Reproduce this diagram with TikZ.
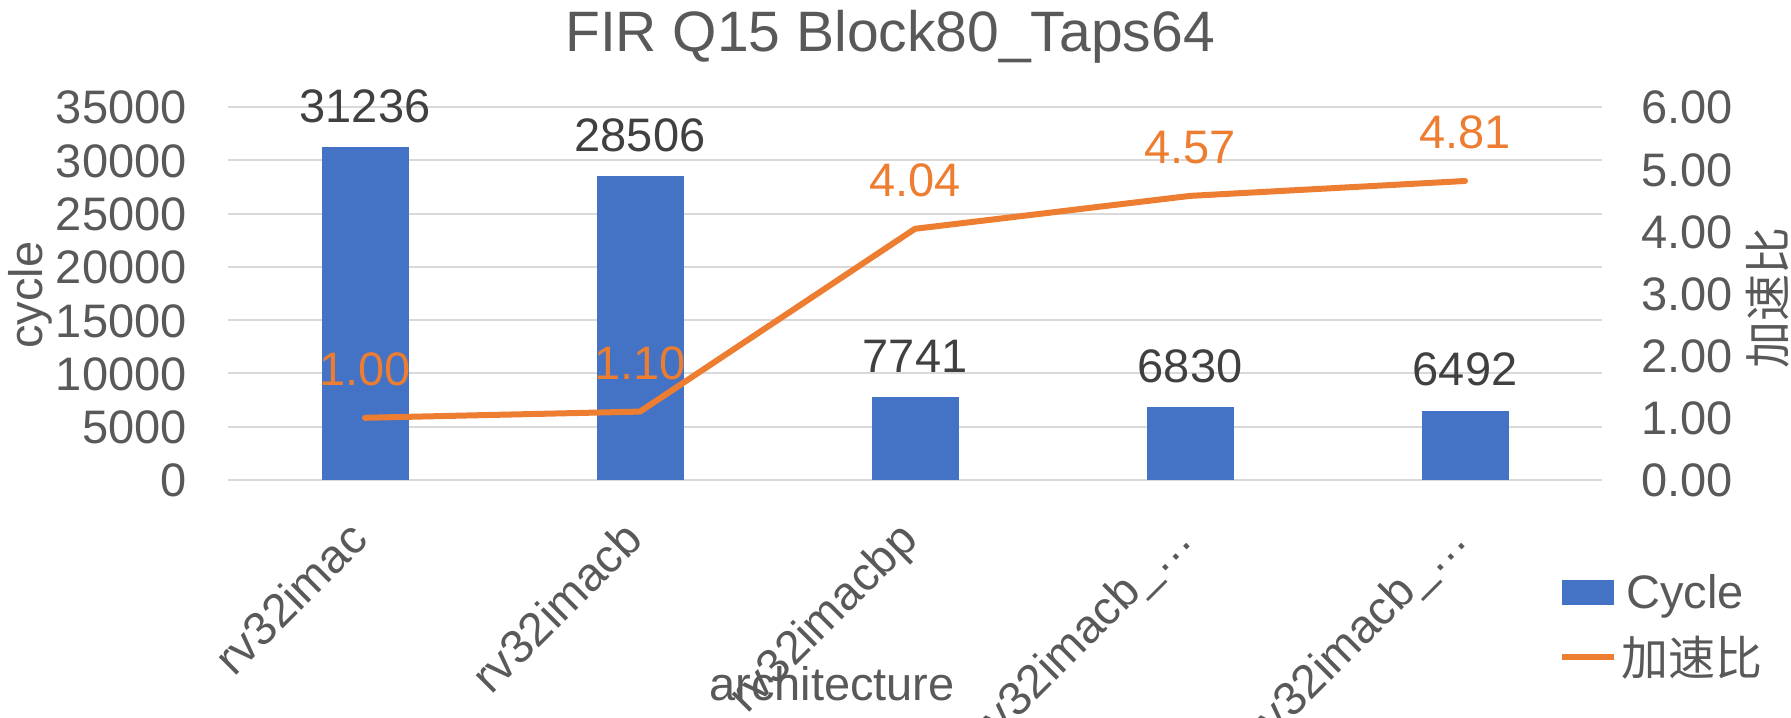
\documentclass[tikz,border=0pt]{standalone}
\usepackage{fontspec}
\setmainfont{Liberation Sans}
\newfontfamily\cjkfont{Noto Sans CJK SC}
\definecolor{axisgray}{HTML}{595959}
\definecolor{labelgray}{HTML}{404040}
\definecolor{gridgray}{HTML}{D9D9D9}
\definecolor{barblue}{HTML}{4472C4}
\definecolor{lineorange}{HTML}{ED7D31}
\tikzset{
    ticklabel/.style={font=\fontsize{23.5}{28}\selectfont, text=axisgray, inner sep=0pt},
    titletext/.style={font=\fontsize{28.5}{34}\selectfont, text=axisgray, inner sep=0pt},
    datalabel/.style={font=\fontsize{23.5}{28}\selectfont, text=labelgray, inner sep=0pt, anchor=base},
    speedlabel/.style={font=\fontsize{23.5}{28}\selectfont, text=lineorange, inner sep=0pt, anchor=base},
    catlabel/.style={ticklabel, rotate=45, anchor=base east},
    gridline/.style={draw=gridgray, line width=1pt},
    speedline/.style={draw=lineorange, line width=3pt, line join=round, line cap=round}
}
\begin{document}
\begin{tikzpicture}[x=0.5pt, y=0.5pt]
    \useasboundingbox (0, 0) rectangle (1791, 717);
    \node[titletext, anchor=base] (title) at (890, 665){FIR Q15 Block80\_Taps64};

        \draw[gridline](228, 237) to (1602, 237);
        \draw[gridline](228, 290.3) to (1602, 290.3);
        \draw[gridline](228, 343.6) to (1602, 343.6);
        \draw[gridline](228, 396.9) to (1602, 396.9);
        \draw[gridline](228, 450.1) to (1602, 450.1);
        \draw[gridline](228, 503.4) to (1602, 503.4);
        \draw[gridline](228, 556.7) to (1602, 556.7);
        \draw[gridline](228, 610) to (1602, 610);

        \node[ticklabel, anchor=base east] (l0) at (187, 220){0};
        \node[ticklabel, anchor=base east] (l1) at (187, 273.3){5000};
        \node[ticklabel, anchor=base east] (l2) at (187, 326.6){10000};
        \node[ticklabel, anchor=base east] (l3) at (187, 379.9){15000};
        \node[ticklabel, anchor=base east] (l4) at (187, 433.1){20000};
        \node[ticklabel, anchor=base east] (l5) at (187, 486.4){25000};
        \node[ticklabel, anchor=base east] (l6) at (187, 539.7){30000};
        \node[ticklabel, anchor=base east] (l7) at (187, 593){35000};

        \node[ticklabel, anchor=base west] (r0) at (1641, 220){0.00};
        \node[ticklabel, anchor=base west] (r1) at (1641, 282.2){1.00};
        \node[ticklabel, anchor=base west] (r2) at (1641, 344.3){2.00};
        \node[ticklabel, anchor=base west] (r3) at (1641, 406.5){3.00};
        \node[ticklabel, anchor=base west] (r4) at (1641, 468.7){4.00};
        \node[ticklabel, anchor=base west] (r5) at (1641, 530.8){5.00};
        \node[ticklabel, anchor=base west] (r6) at (1641, 593){6.00};

    % cycle bars
        \fill[barblue](321.5, 237) rectangle (408.5, 569.9);
            \node[datalabel] (c1) at (365, 594.9){31236};
        \fill[barblue](596.5, 237) rectangle (683.5, 540.8);
            \node[datalabel] (c2) at (640, 565.8){28506};
        \fill[barblue](871.5, 237) rectangle (958.5, 319.5);
            \node[datalabel] (c3) at (915, 344.5){7741};
        \fill[barblue](1146.5, 237) rectangle (1233.5, 309.8);
            \node[datalabel] (c4) at (1190, 334.8){6830};
        \fill[barblue](1421.5, 237) rectangle (1508.5, 306.2);
            \node[datalabel] (c5) at (1465, 331.2){6492};

    % speedup line
        \coordinate (s1) at (365, 299.2);
        \coordinate (s2) at (640, 305.4);
        \coordinate (s3) at (915, 488.2);
        \coordinate (s4) at (1190, 521.1);
        \coordinate (s5) at (1465, 536.0);
        \draw[speedline] (s1) -- (s2) -- (s3) -- (s4) -- (s5);
            \node[speedlabel] (v1) at (365, 331.2){1.00};
            \node[speedlabel] (v2) at (640, 337.4){1.10};
            \node[speedlabel] (v3) at (915, 520.2){4.04};
            \node[speedlabel] (v4) at (1190, 553.1){4.57};
            \node[speedlabel] (v5) at (1465, 568.0){4.81};

        \node[catlabel] (a1) at (370, 175){rv32imac};
        \node[catlabel] (a2) at (645, 175){rv32imacb};
        \node[catlabel] (a3) at (920, 175){rv32imacbp};
        \node[catlabel] (a4) at (1195, 175){rv32imacb\_…};
        \node[catlabel] (a5) at (1470, 175){rv32imacb\_…};

        \node[ticklabel, anchor=base] (xtitle) at (832, 17){architecture};
        \node[ticklabel, anchor=base, rotate=90] (ytitle) at (42, 422){cycle};
        \node[ticklabel, rotate=90, font=\fontsize{23.5}{28}\cjkfont] (ztitle) at (1768, 419){加速比};

    % legend
        \fill[barblue](1562, 112) rectangle (1614, 137);
            \node[ticklabel, anchor=base west] (k1) at (1626, 109){Cycle};
        \coordinate (k2a) at (1562, 60);
        \coordinate (k2b) at (1614, 60);
        \draw[draw=lineorange, line width=3pt] (k2a) to (k2b);
            \node[ticklabel, anchor=base west, font=\fontsize{23.5}{28}\cjkfont] (k2) at (1621, 42){加速比};
\end{tikzpicture}
\end{document}
